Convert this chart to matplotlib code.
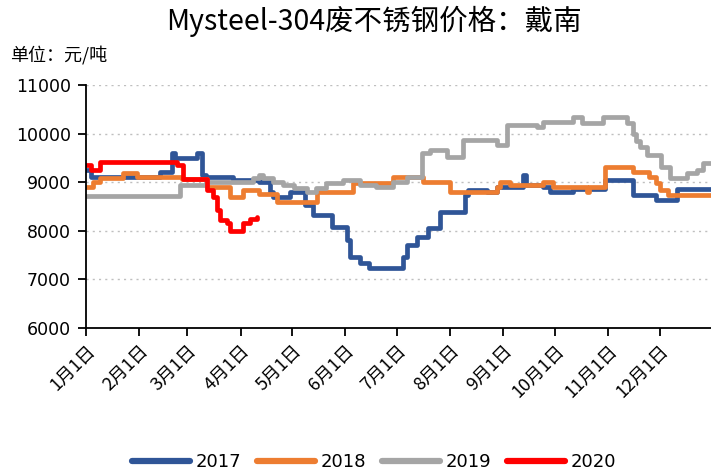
import matplotlib
matplotlib.use("Agg")
import matplotlib.pyplot as plt

# ---------------- data (day of year, value in 元/吨) ----------------
days_2017 = [0, 3, 43, 50, 52, 64.6, 67.5, 70, 85.5, 101, 107, 109, 119, 127.4, 132, 143,
             151.9, 153.6, 159.4, 165, 184.5, 186.8, 192.6, 199, 206, 220.5, 222.3, 233.3,
             239, 254.3, 256, 266, 270, 283.4, 302, 318.3, 332, 343.9, 365]
vals_2017 = [9250, 9100, 9200, 9600, 9500, 9600, 9150, 9100, 9050, 9000, 8800, 8700, 8800,
             8530, 8330, 8080, 7810, 7460, 7330, 7230, 7460, 7700, 7870, 8060, 8390, 8740,
             8840, 8800, 8900, 9150, 8950, 8900, 8800, 8850, 9040, 8740, 8630, 8850, 8850]

days_2018 = [0, 4, 8, 21.5, 29.7, 56, 70.4, 83.8, 91.4, 101, 111, 134.4, 155.4, 178.6, 196,
             211.8, 239, 241, 246.7, 266, 271.7, 291.5, 293, 302, 318.3, 328, 332, 334,
             338.6, 365]
vals_2018 = [8900, 9000, 9080, 9190, 9100, 9060, 8900, 8700, 8840, 8750, 8600, 8800, 8980,
             9100, 9000, 8800, 8900, 9000, 8950, 9000, 8900, 8800, 8900, 9320, 9200, 9100,
             8980, 8840, 8740, 8740]

days_2019 = [0, 54.7, 70, 97, 101, 103, 108.8, 114.6, 121, 128.6, 134, 140, 149.5, 159.4,
             169, 178.6, 186.8, 195.5, 200, 210, 219.4, 239, 245, 262.4, 266, 283.4, 289,
             300.8, 314.8, 318.3, 320, 322.4, 326.4, 335, 339.8, 349.7, 355.5, 359, 365]
vals_2019 = [8720, 8940, 9000, 9080, 9150, 9080, 9000, 8940, 8880, 8800, 8880, 8980, 9040,
             8940, 8900, 9000, 9100, 9600, 9660, 9520, 9870, 9770, 10180, 10140, 10240,
             10340, 10210, 10340, 10210, 10000, 9850, 9730, 9560, 9320, 9080, 9190, 9250,
             9390, 9390]

days_2020 = [0, 3, 8, 53, 56.4, 70.4, 74, 76.2, 78, 82, 83.8, 91.4, 95.4, 99.5]
vals_2020 = [9350, 9260, 9420, 9350, 9060, 8840, 8700, 8430, 8220, 8170, 8000, 8160, 8240,
             8280]

month_starts = [0, 31, 59, 90, 120, 151, 181, 212, 243, 273, 304, 334]
month_labels = ["1月1日", "2月1日", "3月1日", "4月1日", "5月1日", "6月1日", "7月1日",
                "8月1日", "9月1日", "10月1日", "11月1日", "12月1日"]
y_ticks = [6000, 7000, 8000, 9000, 10000, 11000]

series = [("2017", days_2017, vals_2017, "#2F5597"),
          ("2018", days_2018, vals_2018, "#ED7D31"),
          ("2019", days_2019, vals_2019, "#A5A5A5"),
          ("2020", days_2020, vals_2020, "#FF0000")]

# ---------------- figure ----------------
cjk = ["Noto Sans CJK SC", "DejaVu Sans"]
plt.rcParams["font.family"] = cjk

fig = plt.figure(figsize=(7.11, 4.74), dpi=100)
ax = fig.add_axes([86 / 711, (474 - 328) / 474, (713 - 86) / 711, (328 - 85) / 474])

for name, d, v, c in series:
    ax.plot(d, v, drawstyle="steps-post", color=c, lw=3.4, label=name,
            solid_joinstyle="round", solid_capstyle="round")

ax.set_xlim(0, 365)
ax.set_ylim(6000, 11000)
ax.set_yticks(y_ticks)
ax.set_yticklabels([str(t) for t in y_ticks], family="DejaVu Sans", fontsize=12.5)
ax.set_xticks(month_starts)
ax.set_xticklabels(month_labels, rotation=45, ha="right", va="top",
                   rotation_mode="anchor", fontsize=13, family=cjk)

for t in y_ticks[1:]:
    ax.axhline(t, color="#BFBFBF", lw=1.0, ls=(0, (1.5, 3)), zorder=0)

for s in ["top", "right"]:
    ax.spines[s].set_visible(False)
for s in ["left", "bottom"]:
    ax.spines[s].set_color("black")
    ax.spines[s].set_linewidth(1.3)
ax.tick_params(axis="both", direction="out", length=6, width=1.3, colors="black")
ax.tick_params(axis="y", pad=5)
ax.tick_params(axis="x", pad=4)

fig.text(374 / 711, 1 - 21 / 474, "Mysteel-304废不锈钢价格：戴南", ha="center", va="center",
         fontsize=20.5, family=cjk)
fig.text(10 / 711, 1 - 55 / 474, "单位：元/吨", ha="left", va="center",
         fontsize=13, family=cjk)

leg = fig.legend(loc="center", bbox_to_anchor=(374 / 711, 1 - 462 / 474), ncol=4,
                 frameon=False, handlelength=3.2, handletextpad=0.3,
                 columnspacing=0.9, prop={"family": "DejaVu Sans", "size": 13})
for h in leg.legend_handles:
    h.set_linewidth(4.5)

fig.savefig("out.png", dpi=100)
